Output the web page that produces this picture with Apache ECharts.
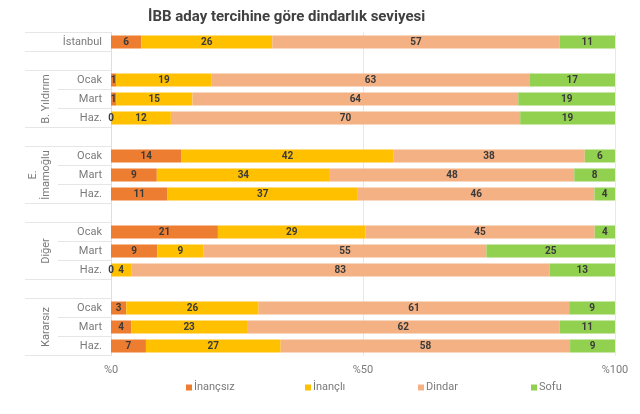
<!DOCTYPE html>
<html>
<head>
<meta charset="UTF-8">
<title>İBB aday tercihine göre dindarlık seviyesi</title>
<script src="https://cdn.jsdelivr.net/npm/echarts@6/dist/echarts.min.js"></script>
<style>
  html, body { margin: 0; padding: 0; background: #fff; }
  #main { width: 640px; height: 414px; }
</style>
</head>
<body>
<div id="main"></div>
<script type="text/javascript">
// satırlar (yukarıdan aşağı), boş satırlar grup arası boşluk
var rowLabels = ['İstanbul', '', 'Ocak', 'Mart', 'Haz.', '', 'Ocak', 'Mart', 'Haz.', '', 'Ocak', 'Mart', 'Haz.', '', 'Ocak', 'Mart', 'Haz.'];
var groupLabels = ['', '', '', 'B. Yıldırım', '', '', '', 'E.\nİmamoğlu', '', '', '', 'Diğer', '', '', '', 'Kararsız', ''];
var seriesNames = ['İnançsız', 'İnançlı', 'Dindar', 'Sofu'];
var colors = ['#ED7D31', '#FFC000', '#F4B183', '#92D050'];

var inancsiz = [6, null, 1, 1, 0, null, 14, 9, 11, null, 21, 9, 0, null, 3, 4, 7];
var inancli  = [26, null, 19, 15, 12, null, 42, 34, 37, null, 29, 9, 4, null, 26, 23, 27];
var dindar   = [57, null, 63, 64, 70, null, 38, 48, 46, null, 45, 55, 83, null, 61, 62, 58];
var sofu     = [11, null, 17, 19, 19, null, 6, 8, 4, null, 4, 25, 13, null, 9, 11, 9];

var xTicks = [0, 50, 100];

// ayırıcı çizgiler: grup içinde kısa, grup kenarlarında uzun
var innerTicks = [3, 4, 7, 8, 11, 12, 15, 16];
var outerTicks = [0, 1, 2, 5, 6, 9, 10, 13, 14];

var raw = [inancsiz, inancli, dindar, sofu];
var textFont = 'Roboto, "Liberation Sans", sans-serif';
var labelGray = '#7a7a7a';

// %100 yığılmış çubuk: her satırı kendi toplamına göre normalle
function shares(arr) {
    return arr.map(function (v, i) {
        if (v === null) return '-';
        var total = 0;
        for (var k = 0; k < raw.length; k++) total += raw[k][i];
        return v / total * 100;
    });
}

var myChart = echarts.init(document.getElementById('main'));

var series = [];
var legends = [];
var legendLeft = [186, 305, 418, 531];
for (var s = 0; s < raw.length; s++) {
    series.push({
        name: seriesNames[s],
        type: 'bar',
        stack: 'toplam',
        barWidth: 13,
        itemStyle: { color: colors[s] },
        label: {
            show: true,
            position: 'inside',
            color: '#3a3a3a',
            fontSize: 10,
            fontWeight: 'bold',
            fontFamily: textFont,
            formatter: function (p) {
                return raw[p.seriesIndex][p.dataIndex];
            }
        },
        data: shares(raw[s])
    });
    legends.push({
        data: [seriesNames[s]],
        left: legendLeft[s],
        top: 382,
        padding: 0,
        icon: 'rect',
        itemWidth: 6,
        itemHeight: 6,
        textStyle: { color: labelGray, fontSize: 11, fontFamily: textFont, padding: [0, 0, 0, -3] }
    });
}

var option = {
    animation: false,
    backgroundColor: '#fff',
    title: {
        text: 'İBB aday tercihine göre dindarlık seviyesi',
        left: 143,
        top: 5,
        textStyle: { color: '#404040', fontSize: 15, fontWeight: 'bold', fontFamily: textFont }
    },
    legend: legends,
    grid: { left: 111, right: 25, top: 32.5, bottom: 58.5 },
    xAxis: {
        type: 'value',
        min: xTicks[0],
        max: xTicks[xTicks.length - 1],
        interval: xTicks[1] - xTicks[0],
        axisLine: { show: false },
        axisTick: { show: false },
        splitLine: { lineStyle: { color: '#e8e8e8' } },
        axisLabel: {
            color: labelGray,
            fontSize: 11,
            fontFamily: textFont,
            margin: 9,
            formatter: '%{value}'
        }
    },
    yAxis: [{
        type: 'category',
        inverse: true,
        data: rowLabels,
        axisLine: { show: true, lineStyle: { color: '#dedede' } },
        axisTick: {
            show: true,
            length: 53,
            lineStyle: { color: '#e6e6e6' },
            interval: function (idx) { return innerTicks.indexOf(idx) >= 0; }
        },
        axisLabel: { interval: 0, margin: 9, color: labelGray, fontSize: 11, fontFamily: textFont }
    }, {
        type: 'category',
        inverse: true,
        position: 'left',
        data: groupLabels,
        axisLine: { show: false },
        axisTick: {
            show: true,
            length: 86,
            lineStyle: { color: '#e6e6e6' },
            interval: function (idx) { return outerTicks.indexOf(idx) >= 0; }
        },
        axisLabel: {
            interval: 0,
            rotate: 90,
            margin: 58,
            color: labelGray,
            fontSize: 11,
            lineHeight: 13,
            fontFamily: textFont
        }
    }],
    series: series
};

myChart.setOption(option);
</script>
</body>
</html>
